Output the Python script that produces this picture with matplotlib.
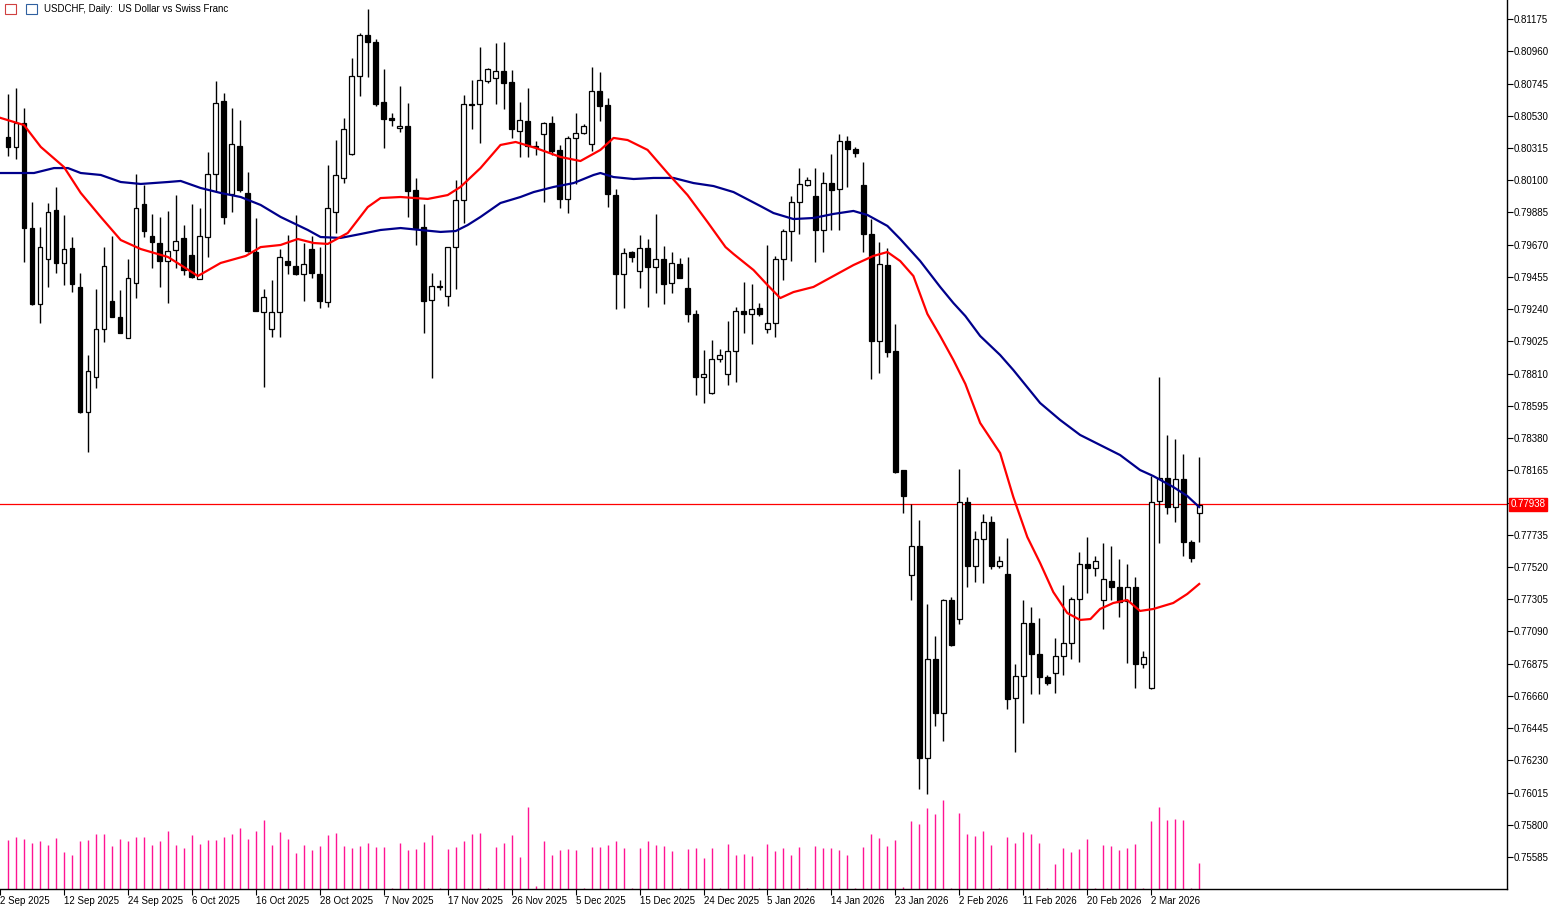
import matplotlib
matplotlib.use("Agg")
import matplotlib.pyplot as plt
import numpy as np
from matplotlib.patches import Rectangle

open_ = [.80388,.80321,.80482,.79781,.79274,.79574,.79901,.79548,.79648,.79388,
 .78554,.78787,.79108,.79294,.79188,.79048,.79414,.79941,.79728,.79681,
 .79561,.79634,.79715,.79601,.79441,.79721,.80141,.80628,.80008,.80328,
 .80015,.79621,.79221,.79108,.79221,.79561,.79528,.79474,.79641,.79474,
 .79288,.79888,.80115,.80275,.80795,.81069,.81022,.80622,.80515,.80448,
 .80462,.80035,.79788,.79301,.79392,.79328,.79654,.79968,.80602,.80608,
 .80762,.80782,.80828,.80755,.80428,.80495,.80328,.80408,.80482,.80302,
 .79975,.80382,.80415,.80342,.80695,.80602,.80001,.79474,.79621,.79494,
 .79648,.79521,.79574,.79414,.79541,.79381,.79208,.78787,.78681,.78907,
 .78807,.78961,.79228,.79208,.79248,.79108,.79148,.79574,.79761,.79955,
 .80068,.79995,.79768,.80081,.80041,.80362,.80308,.80068,.79741,.79028,
 .79534,.78961,.78167,.77467,.77660,.76246,.76906,.76546,.77300,.77173,
 .77954,.77527,.77707,.77820,.77527,.77473,.76646,.76793,.77147,.76940,
 .76786,.76813,.76926,.77013,.77307,.77540,.77513,.77300,.77427,.77387,
 .77293,.77387,.76873,.76713,.77960,.78114,.77920,.78107,.77687,.77880]
close = [.80321,.80482,.79781,.79274,.79654,.79888,.79548,.79641,.79408,.78554,
 .78827,.79108,.79528,.79188,.79081,.79448,.79915,.79761,.79688,.79561,
 .79628,.79695,.79501,.79454,.79728,.80141,.80615,.79855,.80342,.80035,
 .79628,.79228,.79321,.79221,.79588,.79534,.79474,.79541,.79481,.79294,
 .79915,.80135,.80442,.80795,.81069,.81022,.80608,.80508,.80502,.80462,
 .80028,.79781,.79294,.79394,.79390,.79654,.79968,.80608,.80608,.80768,
 .80842,.80828,.80748,.80442,.80502,.80328,.80321,.80482,.80295,.79975,
 .80382,.80415,.80462,.80695,.80595,.80008,.79474,.79614,.79588,.79648,
 .79521,.79574,.79408,.79548,.79448,.79208,.78787,.78807,.78907,.78934,
 .78961,.79228,.79208,.79241,.79208,.79148,.79574,.79761,.79955,.80075,
 .80101,.79768,.80081,.80035,.80362,.80308,.80281,.79741,.79028,.79541,
 .78954,.78154,.77994,.77660,.76246,.76906,.76546,.77300,.77000,.77954,
 .77527,.77707,.77820,.77527,.77560,.76640,.76793,.77147,.76940,.76786,
 .76746,.76926,.77013,.77307,.77540,.77513,.77560,.77440,.77387,.77287,
 .77387,.76873,.76920,.77954,.78114,.77920,.78107,.77687,.77580,.77934]
high = [.80675,.80715,.80582,.79955,.79788,.79948,.80055,.79868,.79721,.79481,
 .78934,.79374,.79654,.79728,.79368,.79574,.80141,.80068,.79875,.79855,
 .79895,.80001,.79801,.79941,.79915,.80288,.80762,.80682,.80582,.80502,
 .80155,.79848,.79374,.79434,.79641,.79735,.79868,.79681,.79728,.79654,
 .80201,.80368,.80515,.80915,.81082,.81242,.81042,.80842,.80548,.80728,
 .80615,.80115,.79941,.79481,.79434,.79654,.80101,.80668,.80768,.80989,
 .80848,.81015,.81022,.80835,.80622,.80715,.80362,.80488,.80528,.80335,
 .80395,.80548,.80475,.80855,.80822,.80648,.80041,.79648,.79625,.79735,
 .79708,.79875,.79661,.79621,.79581,.79588,.79234,.78967,.79034,.78974,
 .79161,.79254,.79421,.79408,.79281,.79668,.79594,.79775,.79995,.80181,
 .80121,.80181,.80155,.80275,.80408,.80395,.80321,.80221,.79841,.79688,
 .79648,.79141,.78170,.77940,.77834,.77273,.77060,.77307,.77320,.78174,
 .77987,.77760,.77874,.77860,.77593,.77714,.76873,.77300,.77253,.77180,
 .76800,.77047,.77400,.77320,.77620,.77720,.77593,.77680,.77660,.77573,
 .77540,.77453,.76960,.78127,.78787,.78401,.78374,.78274,.77700,.78254]
low = [.80261,.80241,.79554,.79270,.79148,.79388,.79481,.79401,.79354,.78547,
 .78287,.78714,.79021,.79185,.79078,.79045,.79314,.79721,.79514,.79388,
 .79281,.79514,.79468,.79450,.79438,.79588,.80021,.79808,.79888,.80021,
 .79621,.79225,.78721,.79054,.79054,.79474,.79470,.79294,.79448,.79248,
 .79254,.79748,.80081,.80270,.80662,.80788,.80595,.80315,.80462,.80422,
 .79855,.79668,.79081,.78781,.79368,.79261,.79374,.79815,.80442,.80348,
 .80748,.80608,.80575,.80382,.80255,.80255,.80268,.79955,.80268,.79915,
 .79881,.80075,.80408,.80295,.80495,.79921,.79241,.79248,.79554,.79381,
 .79254,.79348,.79274,.79348,.79445,.79154,.78667,.78614,.78675,.78887,
 .78734,.78754,.79081,.79008,.79194,.79081,.79054,.79434,.79561,.79741,
 .80061,.79554,.79621,.79768,.79768,.80055,.80255,.79621,.78774,.78814,
 .78921,.78150,.77880,.77300,.76039,.76006,.76460,.76360,.76995,.77140,
 .77387,.77420,.77413,.77507,.77513,.76573,.76286,.76480,.76673,.76673,
 .76733,.76680,.76800,.76906,.76886,.77347,.77460,.77107,.77300,.77187,
 .76880,.76713,.76846,.76706,.77680,.77874,.77820,.77593,.77553,.77687]
volume = [49,52,50,46,48,44,51,37,34,48, 49,55,55,43,50,48,52,52,44,48,
 58,44,41,54,45,49,49,52,55,61, 50,58,69,44,57,50,36,44,39,43,
 54,56,43,41,43,46,42,42,1,46, 39,40,47,54,1,40,42,48,55,56,
 1,42,46,54,32,82,3,48,34,39, 40,39,1,42,42,44,48,41,1,41,
 48,44,43,38,1,40,41,31,41,1, 45,34,35,33,1,45,38,41,34,42,
 1,43,41,41,39,34,1,42,55,51, 43,49,2,68,65,81,75,89,1,76,
 55,53,58,44,1,52,46,57,55,46, 1,25,41,37,40,50,1,44,43,39,
 41,45,1,68,82,69,70,69,1,26]

ma_fast_pos = [-0.9,2.0,4.1,7.0,9.1,11.6,14.1,16.6,20.0,22.0,23.75,26.6,29.75,31.6,34.1,36.25,38.25,40,42.5,45,
 46.6,49.1,52.5,55,56.6,59.1,61.6,63.5,66,69.1,71.6,74.1,75.75,77.5,80,82.5,85,87.5,89.75,90.75,
 93.25,95,96.6,98.25,100.75,103.25,105.75,108.25,110,111.6,113.25,115,116.6,118.25,119.75,121.6,124.1,125.75,127.5,129.1,
 130.75,132.5,134.1,135.4,136.6,138.25,140,141.6,143.25,145.75,147.5,149]
ma_fast = [.80515,.80468,.80322,.80188,.80015,.79855,.79701,.79641,.79588,.79521,.79461,.79548,.79595,.79654,.79668,.79708,.79681,.79675,.79748,.79921,
 .79981,.79988,.79975,.80001,.80055,.80181,.80335,.80355,.80315,.80255,.80228,.80302,.80382,.80368,.80302,.80148,.80001,.79821,.79654,.79608,
 .79501,.79401,.79314,.79354,.79388,.79461,.79534,.79595,.79621,.79561,.79461,.79208,.79061,.78901,.78741,.78481,.78280,.77987,.77720,.77547,
 .77353,.77213,.77167,.77173,.77240,.77280,.77300,.77227,.77240,.77280,.77340,.77407]
ma_slow_pos = [-0.9,3.25,5.75,7.5,9.1,11.6,14.1,16.6,20,21.6,24.1,26.6,29.1,31.6,34.1,37.5,39.1,41.6,44.1,46.6,
 49.1,54.1,56,57.5,59.1,61.6,64.1,65.75,68.25,70.75,73.25,74.1,75.75,78.25,80.75,83.25,85.75,88.25,90.75,94.1,
 95.75,98.25,100.75,103.25,105.75,107.5,110,111.6,114.1,116.6,118.25,119.75,121.6,124.1,125.75,129.1,131.6,134.1,136.6,139.1,
 141.6,143.25,145.75,147.5,149]
ma_slow = [.80148,.80148,.80181,.80181,.80148,.80135,.80088,.80075,.80088,.80095,.80048,.80015,.79988,.79935,.79855,.79768,.79721,.79715,.79741,.79768,
 .79781,.79755,.79761,.79801,.79855,.79948,.79988,.80021,.80055,.80081,.80135,.80148,.80121,.80108,.80115,.80115,.80081,.80061,.80021,.79928,
 .79881,.79841,.79848,.79875,.79895,.79868,.79795,.79708,.79561,.79388,.79281,.79194,.79061,.78934,.78834,.78614,.78501,.78401,.78334,.78267,
 .78167,.78127,.78054,.77994,.77920]

tick_prices = [0.81175,0.80960,0.80745,0.80530,0.80315,0.80100,0.79885,0.79670,0.79455,0.79240,
 0.79025,0.78810,0.78595,0.78380,0.78165,0.77950,0.77735,0.77520,0.77305,0.77090,
 0.76875,0.76660,0.76445,0.76230,0.76015,0.75800,0.75585]
date_labels = ["2 Sep 2025","12 Sep 2025","24 Sep 2025","6 Oct 2025","16 Oct 2025","28 Oct 2025",
 "7 Nov 2025","17 Nov 2025","26 Nov 2025","5 Dec 2025","15 Dec 2025","24 Dec 2025","5 Jan 2026",
 "14 Jan 2026","23 Jan 2026","2 Feb 2026","11 Feb 2026","20 Feb 2026","2 Mar 2026"]
date_bars = [-1,7,15,23,31,39,47,55,63,71,79,87,95,103,111,119,127,135,143]
last_price = 0.77938

FONT = 'Liberation Sans'
W, H = 1551, 910
fig = plt.figure(figsize=(W/100, H/100), dpi=100)
ax = fig.add_axes([0, 21/H, 1507/W, 889/H])
ax.set_xlim(-0.875, 187.5)
ax.set_ylim(0.81302 - 889*0.0000667, 0.81302)

vax = ax.twinx()
vax.set_ylim(0, 889)
idx = np.arange(len(open_))
vax.vlines(idx, 0, volume, color='#ff1493', lw=1.0)
vax.axis('off')
ax.set_zorder(vax.get_zorder()+1)
ax.patch.set_visible(False)

o = np.array(open_); c = np.array(close); h = np.array(high); l = np.array(low)
ax.vlines(idx, l, h, color='black', lw=1.0, zorder=3)
bot = np.minimum(o, c); top = np.maximum(o, c)
hgt = np.maximum(top - bot, 0.00004)
cols = ['white' if cc >= oo else 'black' for oo, cc in zip(o, c)]
ax.bar(idx, hgt, bottom=bot, width=0.6, color=cols, edgecolor='black', lw=0.9, zorder=4)

ax.plot(ma_slow_pos, ma_slow, color='#00008b', lw=1.6, zorder=5, solid_joinstyle='round')
ax.plot(ma_fast_pos, ma_fast, color='#ff0000', lw=1.6, zorder=5, solid_joinstyle='round')
ax.axhline(last_price, color='#ff0000', lw=0.9, zorder=2)

for s in ['top', 'left']:
    ax.spines[s].set_visible(False)
ax.spines['right'].set_linewidth(1)
ax.spines['bottom'].set_linewidth(1)
ax.yaxis.tick_right()
ax.set_yticks(tick_prices)
ylabels = ["" if abs(p - last_price) < 0.0005 else f"{p:.5f}" for p in tick_prices]
ax.set_yticklabels(ylabels, fontsize=7, family=FONT)
ax.tick_params(axis='y', length=4, width=0.8, pad=1)
ax.set_xticks(date_bars)
ax.set_xticklabels(date_labels, fontsize=7, ha='left', family=FONT)
ax.tick_params(axis='x', length=4, width=0.8, pad=1)

ax.text(1.0025, last_price, f"{last_price:.5f}", transform=ax.get_yaxis_transform(),
        fontsize=7, family=FONT, color='white', va='center', ha='left', zorder=10,
        bbox=dict(boxstyle='square,pad=0.15', fc='#ff0000', ec='#ff0000'))

fig.patches.append(Rectangle((5/W, 1-14/H), 11/W, 10/H, transform=fig.transFigure, fc='white', ec='#d04040', lw=0.8))
fig.patches.append(Rectangle((26/W, 1-14/H), 11/W, 10/H, transform=fig.transFigure, fc='white', ec='#3060a0', lw=0.8))
fig.text(44/W, 1 - 9/H, "USDCHF, Daily:  US Dollar vs Swiss Franc", fontsize=7, family=FONT, va='center', ha='left')
fig.savefig("out.png", dpi=100)
